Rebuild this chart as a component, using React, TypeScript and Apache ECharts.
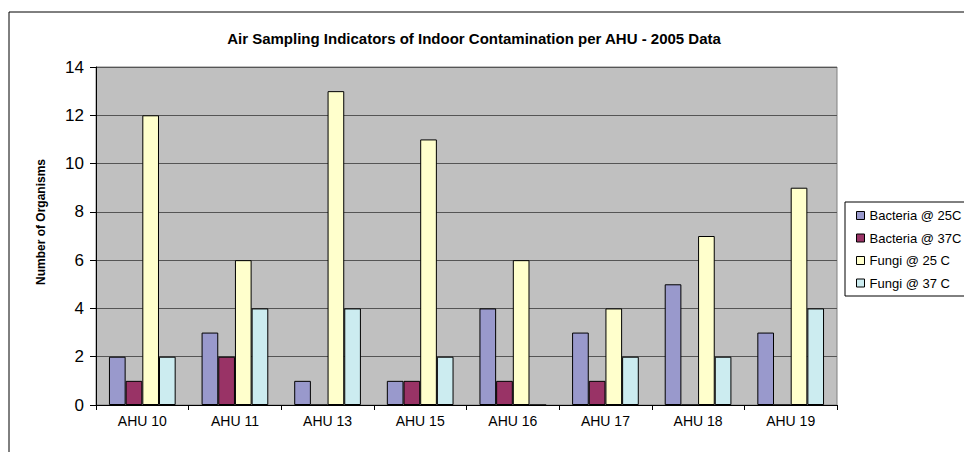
import React, { useEffect, useRef } from "react";
import * as echarts from "echarts";

const categories = ["AHU 10", "AHU 11", "AHU 13", "AHU 15", "AHU 16", "AHU 17", "AHU 18", "AHU 19"];
const bacteria25 = [2, 3, 1, 1, 4, 3, 5, 3];
const bacteria37 = [1, 2, 0, 1, 1, 1, 0, 0];
const fungi25 = [12, 6, 13, 11, 6, 4, 7, 9];
const fungi37 = [2, 4, 4, 2, 0, 2, 2, 4];
const seriesNames = ["Bacteria @ 25C", "Bacteria @ 37C", "Fungi @ 25 C", "Fungi @ 37 C"];
const seriesColors = ["#9999CC", "#993366", "#FFFFCC", "#CCECF0"];
const titleText = "Air Sampling Indicators of Indoor Contamination per AHU - 2005 Data";
const yAxisTitle = "Number of Organisms";

export default function App() {
  const ref = useRef<HTMLDivElement>(null);
  useEffect(() => {
    if (!ref.current) return;
    const chart = echarts.init(ref.current, null, { renderer: "svg" });
    const data = [bacteria25, bacteria37, fungi25, fungi37];
    chart.setOption({
      animation: false,
      backgroundColor: "#ffffff",
      textStyle: { fontFamily: "Liberation Sans, Arial, sans-serif" },
      grid: {
        left: 96,
        top: 67,
        width: 741,
        height: 338,
        show: true,
        backgroundColor: "#C0C0C0",
        borderColor: "#808080",
        borderWidth: 1,
      },
      legend: {
        orient: "vertical",
        left: 851,
        top: 204,
        itemWidth: 8,
        itemHeight: 8,
        itemGap: 9.5,
        icon: "rect",
        data: seriesNames,
        textStyle: { fontSize: 13, color: "#000" },
        itemStyle: { borderColor: "#000", borderWidth: 1 },
      },
      xAxis: {
        type: "category",
        data: categories,
        axisLine: { lineStyle: { color: "#000", width: 1 } },
        axisTick: { show: true, length: 5, lineStyle: { color: "#000" } },
        axisLabel: { color: "#000", fontSize: 14, margin: 9 },
      },
      yAxis: {
        type: "value",
        min: 0,
        max: 14,
        interval: 2,
        axisLine: { show: true, lineStyle: { color: "#000", width: 1 } },
        axisTick: { show: true, length: 6, lineStyle: { color: "#000" } },
        axisLabel: { color: "#000", fontSize: 17, margin: 12 },
        splitLine: { show: true, lineStyle: { color: "#555", width: 1 } },
      },
      graphic: [
        {
          type: "rect",
          shape: { x: 9, y: 12, width: 1200, height: 800 },
          style: { fill: "none", stroke: "#000", lineWidth: 1 },
          silent: true,
          z: 100,
        },
        {
          type: "rect",
          shape: { x: 845, y: 202, width: 300, height: 94 },
          style: { fill: "none", stroke: "#000", lineWidth: 1 },
          silent: true,
        },
        {
          type: "text",
          x: 474,
          y: 38,
          style: {
            text: titleText,
            font: "bold 15px 'Liberation Sans', Arial, sans-serif",
            fill: "#000",
            align: "center",
            verticalAlign: "middle",
          },
        },
        {
          type: "text",
          x: 41,
          y: 222,
          rotation: Math.PI / 2,
          style: {
            text: yAxisTitle,
            font: "bold 12px 'Liberation Sans', Arial, sans-serif",
            fill: "#000",
            align: "center",
            verticalAlign: "middle",
          },
        },
      ],
      series: seriesNames.map((name, i) => ({
        name,
        type: "bar",
        data: data[i],
        barGap: "0%",
        barCategoryGap: "28%",
        itemStyle: { color: seriesColors[i], borderColor: "#000", borderWidth: 1 },
      })),
    });
    return () => chart.dispose();
  }, []);
  return (
    <div
      ref={ref}
      style={{ position: "fixed", left: 0, top: 0, width: 964, height: 452 }}
    />
  );
}
